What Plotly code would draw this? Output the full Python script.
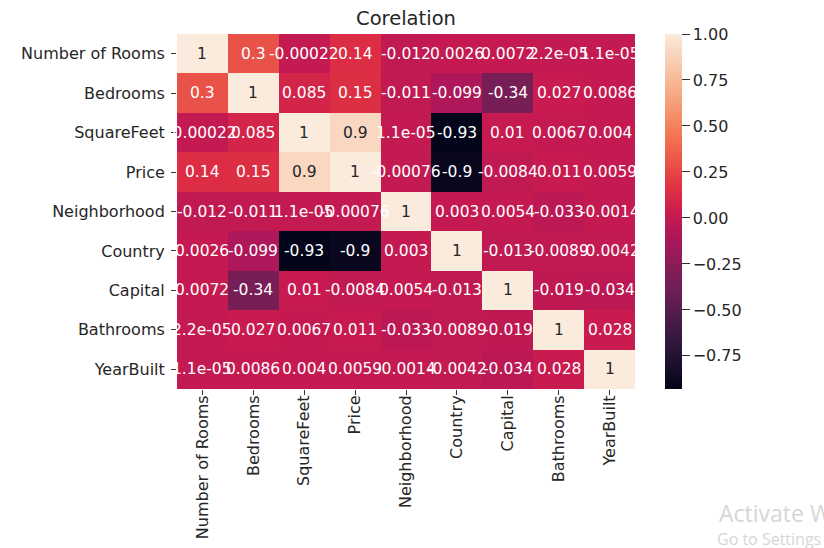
import plotly.graph_objects as go

# Feature names (row/column order of the correlation matrix)
features = ["Number of Rooms", "Bedrooms", "SquareFeet", "Price", "Neighborhood",
            "Country", "Capital", "Bathrooms", "YearBuilt"]

# Pairwise correlation coefficients, one row per feature
row_rooms = [1, 0.3, -0.00022, 0.14, -0.012, 0.0026, 0.0072, 2.2e-05, 1.1e-05]
row_bedrooms = [0.3, 1, 0.085, 0.15, -0.011, -0.099, -0.34, 0.027, 0.0086]
row_sqft = [-0.00022, 0.085, 1, 0.9, 1.1e-05, -0.93, 0.01, 0.0067, 0.004]
row_price = [0.14, 0.15, 0.9, 1, -0.00076, -0.9, -0.0084, 0.011, 0.0059]
row_neigh = [-0.012, -0.011, 1.1e-05, -0.00076, 1, 0.003, 0.0054, -0.033, -0.0014]
row_country = [0.0026, -0.099, -0.93, -0.9, 0.003, 1, -0.013, -0.0089, -0.0042]
row_capital = [0.0072, -0.34, 0.01, -0.0084, 0.0054, -0.013, 1, -0.019, -0.034]
row_bath = [2.2e-05, 0.027, 0.0067, 0.011, -0.033, -0.0089, -0.019, 1, 0.028]
row_year = [1.1e-05, 0.0086, 0.004, 0.0059, -0.0014, -0.0042, -0.034, 0.028, 1]

corr = [row_rooms, row_bedrooms, row_sqft, row_price, row_neigh,
        row_country, row_capital, row_bath, row_year]

cbar_ticks = [-0.75, -0.5, -0.25, 0.0, 0.25, 0.5, 0.75, 1.0]

# "rocket" style sequential colour scale
rocket = [
    [0.0, "#03051A"],
    [0.143, "#35193E"],
    [0.286, "#701F57"],
    [0.429, "#AD1759"],
    [0.5, "#CB1B4F"],
    [0.571, "#E13342"],
    [0.714, "#F37651"],
    [0.857, "#F6B48F"],
    [1.0, "#FAEBDD"],
]

zmin = min(min(r) for r in corr)
zmax = max(max(r) for r in corr)


def hex_rgb(h):
    h = h.lstrip("#")
    return [int(h[i:i + 2], 16) for i in (0, 2, 4)]


def scale_color(t):
    for (p0, c0), (p1, c1) in zip(rocket[:-1], rocket[1:]):
        if p0 <= t <= p1:
            f = (t - p0) / (p1 - p0) if p1 > p0 else 0
            a, b = hex_rgb(c0), hex_rgb(c1)
            return [a[i] + (b[i] - a[i]) * f for i in range(3)]
    return hex_rgb(rocket[-1][1])


def luminance(rgb):
    out = []
    for c in rgb:
        c = c / 255
        out.append(c / 12.92 if c <= 0.03928 else ((c + 0.055) / 1.055) ** 2.4)
    return 0.2126 * out[0] + 0.7152 * out[1] + 0.0722 * out[2]


FONT = "DejaVu Sans"

fig = go.Figure(go.Heatmap(
    z=corr, x=features, y=features,
    colorscale=rocket, zmin=zmin, zmax=zmax,
    xgap=0, ygap=0, hoverinfo="skip",
    colorbar=dict(
        thickness=17, len=1, lenmode="fraction", y=0.5, yanchor="middle",
        x=1.066, xanchor="left", xpad=0, ypad=0, outlinewidth=0,
        tickvals=cbar_ticks, tickformat=".2f", ticks="outside", ticklen=8,
        tickcolor="#333333", tickfont=dict(family=FONT, size=16, color="#262626"),
    ),
))

# Value labels in each cell
for i, rname in enumerate(features):
    for j, cname in enumerate(features):
        v = corr[i][j]
        t = (v - zmin) / (zmax - zmin)
        col = "#262626" if luminance(scale_color(t)) > 0.408 else "white"
        fig.add_annotation(x=cname, y=rname, text=format(v, ".2g"), showarrow=False,
                           font=dict(family=FONT, size=15.5, color=col))

L, R, T, B = 177, 189, 34, 159
W, H = 824, 548
pw, ph = W - L - R, H - T - B
n = len(features)


def px(xp):
    return (xp - L) / pw


def py(yp):
    return (H - B - yp) / ph


# Faint system watermark in the lower right corner
fig.add_annotation(xref="paper", yref="paper", x=px(717), y=py(513), xanchor="left",
                   yanchor="middle", text="Activate Windows", showarrow=False,
                   font=dict(family="Open Sans", size=23, color="#d6d6d6"))
fig.add_annotation(xref="paper", yref="paper", x=px(715), y=py(539), xanchor="left",
                   yanchor="middle", text="Go to Settings to activate Windows.",
                   showarrow=False, font=dict(family="Open Sans", size=16, color="#d6d6d6"))

fig.update_layout(
    width=W, height=H,
    margin=dict(l=L, r=R, t=T, b=B, pad=0, autoexpand=False),
    paper_bgcolor="white", plot_bgcolor="white",
    title=dict(text="Corelation", x=(L + pw / 2) / W, xanchor="center",
               y=1 - 18 / H, yanchor="middle",
               font=dict(family=FONT, size=19.5, color="#262626")),
    xaxis=dict(range=[-0.5, n - 0.5], tickangle=-90, ticks="outside", ticklen=5,
               tickcolor="#333333", showgrid=False, zeroline=False, showline=False,
               ticklabelstandoff=-6,
               automargin=False, tickfont=dict(family=FONT, size=16, color="#262626")),
    yaxis=dict(range=[n - 0.5, -0.5], ticks="outside", ticklen=5, tickcolor="#333333",
               showgrid=False, zeroline=False, showline=False, automargin=False,
               ticklabelstandoff=3,
               tickfont=dict(family=FONT, size=16, color="#262626")),
)

fig.write_html("out.html")
